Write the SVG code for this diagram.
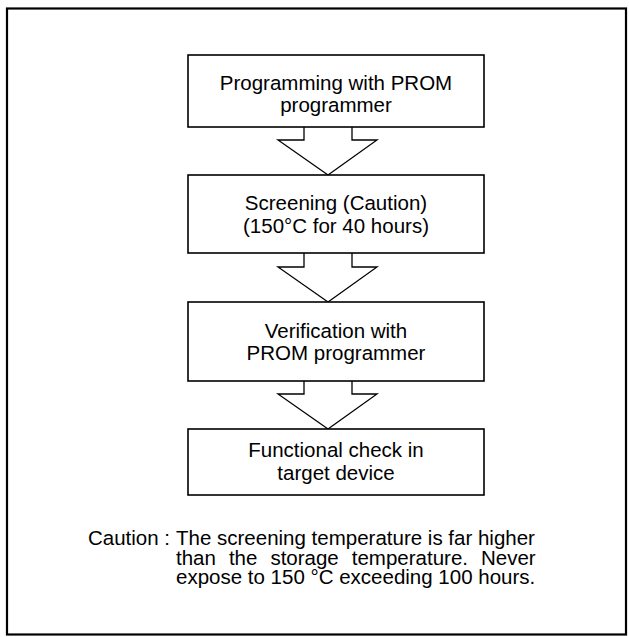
<svg xmlns="http://www.w3.org/2000/svg" width="629" height="637" viewBox="0 0 629 637">
<style>
.frame{fill:none;stroke:#000;stroke-width:2.2}
.box{fill:#fff;stroke:#000;stroke-width:1.6}
.arrow{fill:#fff;stroke:#000;stroke-width:1.3;stroke-linejoin:miter}
text{font-family:"Liberation Sans",Arial,sans-serif;font-size:20.5px;fill:#000}
.c{text-anchor:middle}
</style>
<rect class="frame" x="7" y="8.5" width="619" height="626"/>
<g id="connectors">
<polyline class="arrow" points="304,127 304,140 278,140 328,175 377,140 352,140 352,127"/>
<polyline class="arrow" points="304,253 304,267 278,267 328,302 377,267 352,267 352,253"/>
<polyline class="arrow" points="304,381 304,394 278,394 328,429 377,394 352,394 352,381"/>
</g>
<g id="node1">
<rect class="box" x="188" y="55" width="296" height="72"/>
<text class="c" x="336" y="90">Programming with PROM</text>
<text class="c" x="336" y="112">programmer</text>
</g>
<g id="node2">
<rect class="box" x="188" y="175" width="296" height="78"/>
<text class="c" x="336" y="210">Screening (Caution)</text>
<text class="c" x="336" y="233">(150°C for 40 hours)</text>
</g>
<g id="node3">
<rect class="box" x="188" y="302" width="296" height="79"/>
<text class="c" x="336" y="338">Verification with</text>
<text class="c" x="336" y="360">PROM programmer</text>
</g>
<g id="node4">
<rect class="box" x="188" y="429" width="296" height="66"/>
<text class="c" x="336" y="457">Functional check in</text>
<text class="c" x="336" y="480">target device</text>
</g>
<g id="caution">
<text x="88" y="545">Caution :</text>
<text x="176" y="545">The screening temperature is far higher</text>
<text x="176" y="564.5" word-spacing="7.3">than the storage temperature. Never</text>
<text x="176" y="584">expose to 150 °C exceeding 100 hours.</text>
</g>
</svg>
